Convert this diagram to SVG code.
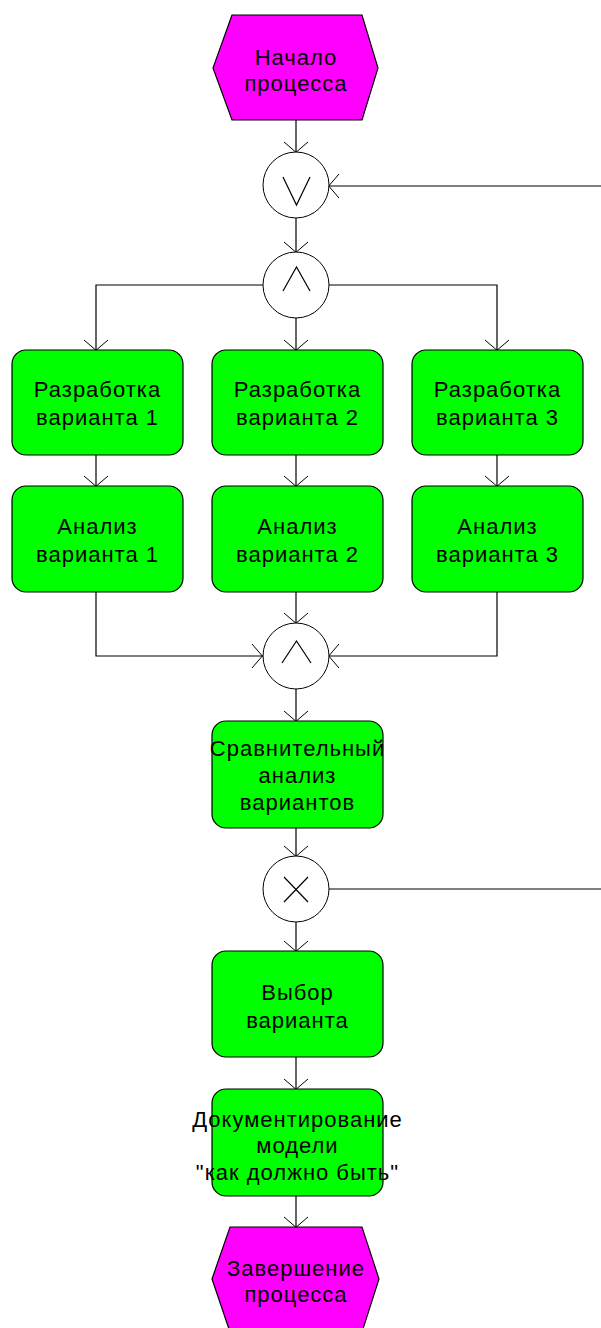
<svg xmlns="http://www.w3.org/2000/svg" width="601" height="1328" viewBox="0 0 601 1328">
<defs>
<style>
.ev{fill:#FF00FF;stroke:#000;stroke-width:1.2}
.fn{fill:#00FF00;stroke:#000;stroke-width:1.2}
.op{fill:#fff;stroke:#000;stroke-width:1}
.sym{fill:none;stroke:#000;stroke-width:1.2}
.t{font-family:"Liberation Sans",Arial,sans-serif;font-size:22px;letter-spacing:1px;text-anchor:middle;fill:#000}
.c{fill:none;stroke:#000;stroke-width:1.2}
</style>
<marker id="arr" viewBox="-12 -14 16 28" refX="0" refY="0" markerWidth="16" markerHeight="28" orient="auto" markerUnits="userSpaceOnUse">
<path d="M-10,-12 L2,2 M-10,12 L2,-2" stroke="#000" stroke-width="1" fill="none"/>
</marker>
</defs>
<rect width="601" height="1328" fill="#fff"/>

<g id="connectors">
<path class="c" d="M296,120 V152" marker-end="url(#arr)"/>
<path class="c" d="M296,218 V252" marker-end="url(#arr)"/>
<path class="c" d="M601,186 H329" marker-end="url(#arr)"/>
<path class="c" d="M263,285 H96 V350" marker-end="url(#arr)"/>
<path class="c" d="M296,318 V350" marker-end="url(#arr)"/>
<path class="c" d="M329,285 H497 V350" marker-end="url(#arr)"/>
<path class="c" d="M96,455 V486" marker-end="url(#arr)"/>
<path class="c" d="M296,455 V486" marker-end="url(#arr)"/>
<path class="c" d="M497,455 V486" marker-end="url(#arr)"/>
<path class="c" d="M96,592 V656 H262" marker-end="url(#arr)"/>
<path class="c" d="M296,592 V623" marker-end="url(#arr)"/>
<path class="c" d="M497,592 V656 H329" marker-end="url(#arr)"/>
<path class="c" d="M296,689 V721" marker-end="url(#arr)"/>
<path class="c" d="M296,828 V856" marker-end="url(#arr)"/>
<path class="c" d="M329,889 H601"/>
<path class="c" d="M296,922 V951" marker-end="url(#arr)"/>
<path class="c" d="M296,1057 V1089" marker-end="url(#arr)"/>
<path class="c" d="M296,1196 V1227" marker-end="url(#arr)"/>
</g>

<g id="start">
<polygon class="ev" points="232,15 362,15 378,68 362,120 232,120 213,68"/>
<text class="t" x="296" y="65">Начало</text>
<text class="t" x="296" y="91">процесса</text>
</g>

<g id="or1">
<circle class="op" cx="296" cy="185" r="33"/>
<path class="sym" d="M283,177 L296.5,205 L310,177"/>
</g>

<g id="and1">
<circle class="op" cx="296" cy="285" r="33"/>
<path class="sym" d="M283,291 L296.5,267 L310,291"/>
</g>

<g id="dev1">
<rect class="fn" x="12" y="350" width="171" height="105" rx="14"/>
<text class="t" x="97.5" y="397">Разработка</text>
<text class="t" x="97.5" y="425">варианта 1</text>
</g>
<g id="dev2">
<rect class="fn" x="212" y="350" width="171" height="105" rx="14"/>
<text class="t" x="297.5" y="397">Разработка</text>
<text class="t" x="297.5" y="425">варианта 2</text>
</g>
<g id="dev3">
<rect class="fn" x="412" y="350" width="171" height="105" rx="14"/>
<text class="t" x="497.5" y="397">Разработка</text>
<text class="t" x="497.5" y="425">варианта 3</text>
</g>

<g id="an1">
<rect class="fn" x="12" y="486" width="171" height="106" rx="14"/>
<text class="t" x="97.5" y="534">Анализ</text>
<text class="t" x="97.5" y="562">варианта 1</text>
</g>
<g id="an2">
<rect class="fn" x="212" y="486" width="171" height="106" rx="14"/>
<text class="t" x="297.5" y="534">Анализ</text>
<text class="t" x="297.5" y="562">варианта 2</text>
</g>
<g id="an3">
<rect class="fn" x="412" y="486" width="171" height="106" rx="14"/>
<text class="t" x="497.5" y="534">Анализ</text>
<text class="t" x="497.5" y="562">варианта 3</text>
</g>

<g id="and2">
<circle class="op" cx="296" cy="656" r="33"/>
<path class="sym" d="M282,663 L296.5,641 L311,663"/>
</g>

<g id="compare">
<rect class="fn" x="212" y="721" width="171" height="107" rx="14"/>
<text class="t" x="297.5" y="756">Сравнительный</text>
<text class="t" x="297.5" y="783">анализ</text>
<text class="t" x="297.5" y="810">вариантов</text>
</g>

<g id="xor1">
<circle class="op" cx="296" cy="889" r="33"/>
<path class="sym" d="M284,877 L308,902 M308,877 L284,902"/>
</g>

<g id="choose">
<rect class="fn" x="212" y="951" width="171" height="106" rx="14"/>
<text class="t" x="297.5" y="1000">Выбор</text>
<text class="t" x="297.5" y="1028">варианта</text>
</g>

<g id="doc">
<rect class="fn" x="212" y="1089" width="171" height="107" rx="14"/>
<text class="t" x="297.5" y="1127">Документирование</text>
<text class="t" x="297.5" y="1153">модели</text>
<text class="t" x="297.5" y="1180">"как должно быть"</text>
</g>

<g id="end">
<polygon class="ev" points="230,1227 362,1227 379,1279 362,1332 230,1332 212,1279"/>
<text class="t" x="296" y="1276">Завершение</text>
<text class="t" x="296" y="1302">процесса</text>
</g>
</svg>
